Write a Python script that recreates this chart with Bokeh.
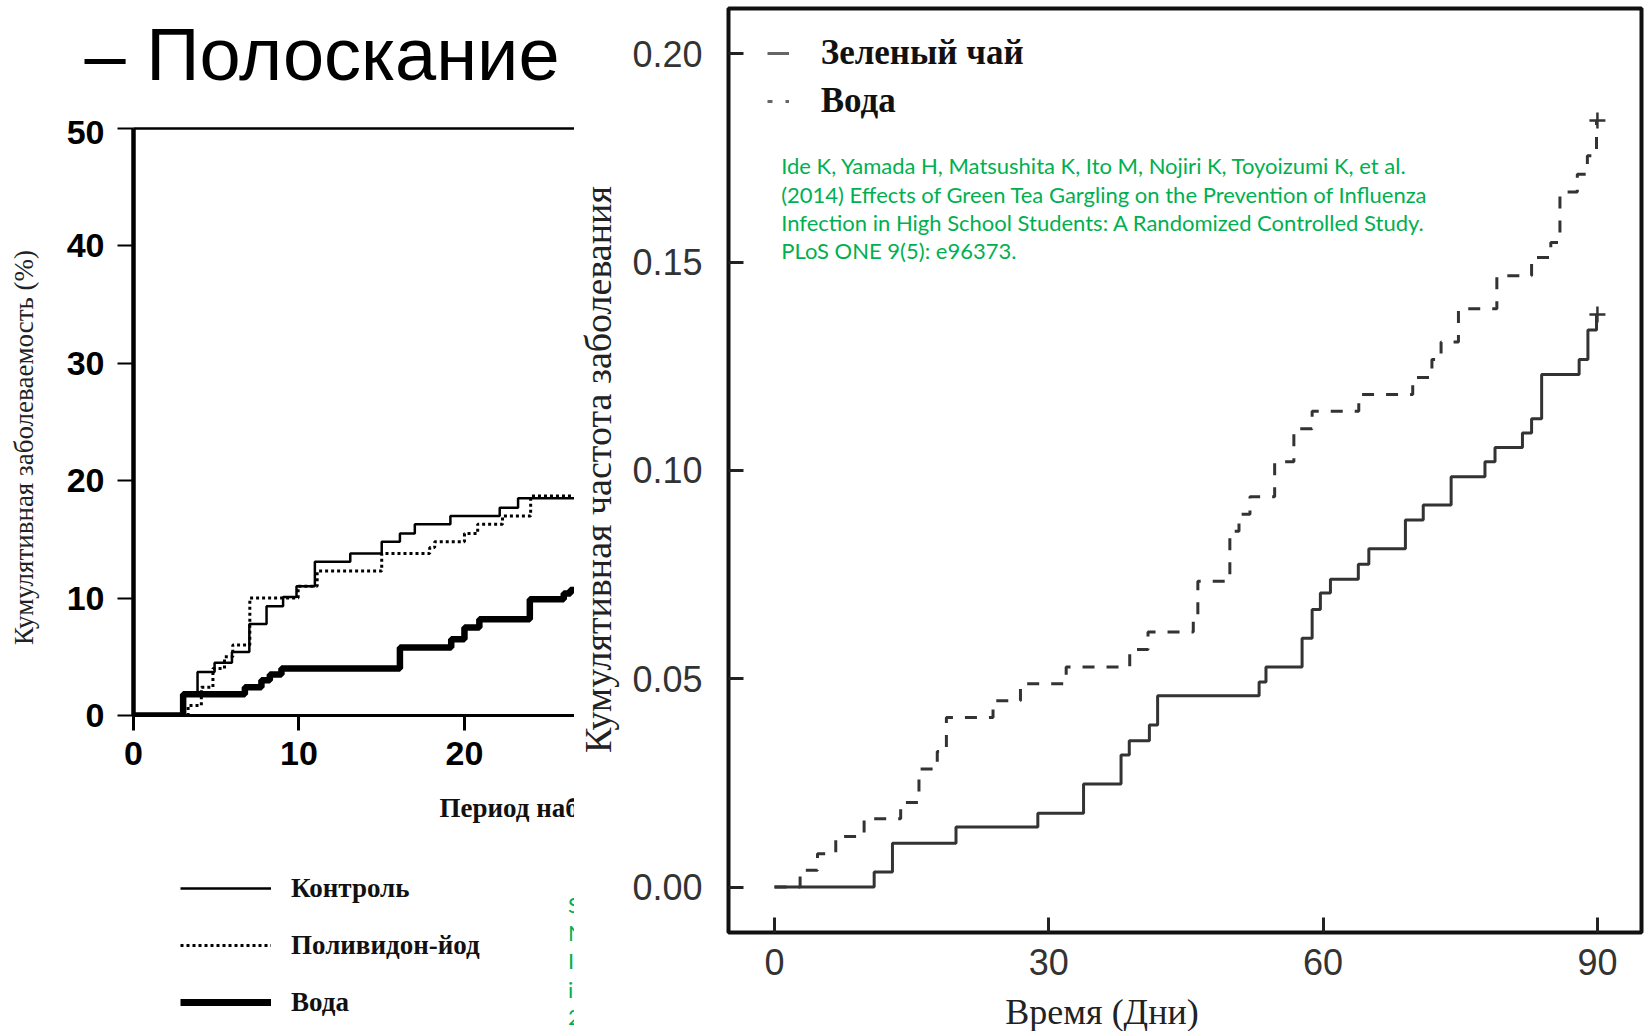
from bokeh.plotting import figure
from bokeh.layouts import row, column
from bokeh.models import Range1d, FixedTicker, Label, Legend, LegendItem, LinearAxis
from bokeh.embed import file_html
from bokeh.resources import INLINE
import math

# ---------------- data: left chart (gargling, %) ----------------
lc_title = "– Полоскание"
lc_ylabel = "Кумулятивная заболеваемость (%)"
lc_xlabel = "Период наблюдения (дни)"
lc_xticks = [0, 10, 20]
lc_yticks = [0, 10, 20, 30, 40, 50]
lc_series_names = ["Контроль", "Поливидон-йод", "Вода"]

lc_days_control = [0, 3.0, 3.87, 4.9, 5.95, 7.0, 8.04, 9.04, 9.85, 10.96, 13.1, 15.0, 16.1, 17.0, 19.15, 22.13, 23.24, 27]
lc_vals_control = [0, 1.9, 3.7, 4.5, 5.4, 7.8, 9.3, 10.1, 11.0, 13.1, 13.8, 14.8, 15.5, 16.3, 17.0, 17.7, 18.5, 18.5]

lc_days_pvp = [0, 3.3, 4.1, 4.8, 5.5, 6.0, 7.03, 9.95, 11.1, 15.0, 17.9, 18.2, 20.0, 20.8, 22.3, 24.0, 27]
lc_vals_pvp = [0, 0.85, 2.4, 4.0, 5.0, 6.0, 10.0, 11.0, 12.3, 13.8, 14.3, 14.8, 15.5, 16.3, 17.0, 18.7, 18.7]

lc_days_water = [0, 3.0, 6.73, 7.73, 8.24, 8.94, 16.1, 19.2, 20.0, 20.9, 23.95, 26.0, 26.4, 27]
lc_vals_water = [0, 1.8, 2.4, 3.0, 3.5, 4.0, 5.8, 6.5, 7.5, 8.2, 9.9, 10.4, 10.7, 10.7]

lc_cite_fragments = ["S", "N", "I", "i", "2"]

# ---------------- data: right chart (green tea gargling) ----------------
rc_ylabel = "Кумулятивная частота заболевания"
rc_xlabel = "Время (Дни)"
rc_xticks = [0, 30, 60, 90]
rc_yticks = [0.0, 0.05, 0.10, 0.15, 0.20]
rc_ytick_labels = ["0.00", "0.05", "0.10", "0.15", "0.20"]
rc_series_names = ["Зеленый чай", "Вода"]

rc_days_tea = [0, 10.9, 12.9, 19.85, 28.8, 33.8, 37.9, 38.8, 41.0, 41.9, 53.0, 53.75, 57.7, 58.8, 59.7,
               60.8, 63.85, 65.0, 69.0, 70.95, 74.0, 77.7, 78.8, 81.8, 82.8, 83.9, 88.0, 88.96, 89.9, 90]
rc_vals_tea = [0, 0.0036, 0.0105, 0.0144, 0.0177, 0.0247, 0.0317, 0.0351, 0.0389, 0.0459, 0.0492, 0.0528,
               0.0597, 0.0666, 0.0706, 0.0739, 0.0775, 0.0812, 0.0881, 0.0917, 0.0985, 0.1021, 0.1055,
               0.1090, 0.1124, 0.1230, 0.1266, 0.1337, 0.1374, 0.1374]

rc_days_water = [0, 2.8, 4.7, 6.7, 9.8, 13.8, 15.8, 17.8, 18.8, 23.9, 26.9, 31.9, 38.85, 40.85, 45.8, 46.3,
                 49.8, 50.8, 52.0, 54.7, 56.8, 58.8, 63.9, 69.8, 71.9, 72.9, 74.8, 79.0, 82.8, 84.9, 85.9,
                 87.8, 88.9, 89.9, 90]
rc_vals_water = [0, 0.0040, 0.0080, 0.0121, 0.0164, 0.0203, 0.0283, 0.0325, 0.0407, 0.0447, 0.0488, 0.0528,
                 0.0570, 0.0612, 0.0654, 0.0734, 0.0854, 0.0895, 0.0937, 0.1021, 0.1100, 0.1142, 0.1182,
                 0.1223, 0.1266, 0.1308, 0.1388, 0.1467, 0.1511, 0.1547, 0.1668, 0.1711, 0.1755, 0.1840, 0.1840]

rc_censor_days = [90, 90]
rc_censor_vals = [0.1374, 0.1840]

rc_citation = [
    "Ide K, Yamada H, Matsushita K, Ito M, Nojiri K, Toyoizumi K, et al.",
    "(2014) Effects of Green Tea Gargling on the Prevention of Influenza",
    "Infection in High School Students: A Randomized Controlled Study.",
    "PLoS ONE 9(5): e96373.",
]

SERIF = "Liberation Serif"
SANS = "Liberation Sans"
GREEN = "#00B050"
NAN = float("nan")
BASE_FIX = 0.38  # Bokeh's alphabetic anchor sits this many em below the intended baseline


def text_panel(x0, x1, y0, y1):
    """Blank figure whose data coordinates equal page pixels (y downward)."""
    f = figure(width=x1 - x0, height=y1 - y0, x_range=Range1d(x0, x1), y_range=Range1d(y1, y0),
               x_axis_type=None, y_axis_type=None, min_border=0, outline_line_color=None,
               output_backend="svg", toolbar_location=None,
               background_fill_color="white", border_fill_color="white")
    f.frame_align = False
    f.grid.visible = False
    return f


def add_text(f, x, y, text, font, size, color="#111", style="normal", angle=0.0,
             align="left", baseline="alphabetic"):
    if baseline == "alphabetic":
        y = y - BASE_FIX * size
    f.add_layout(Label(x=x, y=y, text=text, text_font=font, text_font_size=f"{size}px", text_color=color,
                       text_font_style=style, angle=angle, text_align=align, text_baseline=baseline))


# ================= LEFT COLUMN =================
L_top = text_panel(0, 574, 0, 120)
add_text(L_top, 84, 81.7, lc_title, SANS, 74, color="black")

L_ylab = text_panel(0, 60, 120, 790)
add_text(L_ylab, 23, 447, lc_ylabel, SERIF, 27, color="#222", angle=math.pi / 2,
         align="center", baseline="middle")

L = figure(width=514, height=670, x_range=Range1d(0, 26.65), y_range=Range1d(0, 50),
           output_backend="svg", toolbar_location=None,
           min_border_left=73, min_border_right=0, min_border_top=8, min_border_bottom=75,
           outline_line_color=None, background_fill_color="white", border_fill_color="white")
L.frame_align = False
L.grid.visible = False
L.xaxis.ticker = FixedTicker(ticks=lc_xticks)
L.yaxis.ticker = FixedTicker(ticks=lc_yticks)
for ax in (L.xaxis[0], L.yaxis[0]):
    ax.minor_tick_line_color = None
    ax.major_label_text_font = SANS
    ax.major_label_text_font_style = "bold"
    ax.major_label_text_font_size = "34px"
    ax.major_label_text_color = "black"
    ax.axis_line_color = "black"
    ax.major_tick_line_color = "black"
    ax.major_tick_in = 0
L.yaxis.axis_line_width = 4.5
L.yaxis.major_tick_out = 16
L.yaxis.major_tick_line_width = 2
L.yaxis.major_label_standoff = 13
L.xaxis.axis_line_width = 3
L.xaxis.major_tick_out = 15
L.xaxis.major_tick_line_width = 3
L.xaxis.major_label_standoff = 11
top_ax = LinearAxis(ticker=FixedTicker(ticks=[]), axis_line_width=2.5, axis_line_color="black",
                    major_tick_line_color=None, minor_tick_line_color=None)
L.add_layout(top_ax, "above")

L.step(lc_days_control, lc_vals_control, mode="after", line_color="black", line_width=2.5)
L.step(lc_days_pvp, lc_vals_pvp, mode="after", line_color="black", line_width=3, line_dash="3 3")
L.step(lc_days_water, lc_vals_water, mode="after", line_color="black", line_width=6.5)

L_bot = text_panel(0, 574, 790, 1031)
add_text(L_bot, 439, 818, lc_xlabel, SERIF, 27, style="bold")
for i, t in enumerate(lc_cite_fragments):
    add_text(L_bot, 567.5, 912 + 28.3 * i, t, "Lato", 22, color=GREEN)
lg_ctrl = L_bot.line([NAN], [NAN], line_color="black", line_width=2.5)
lg_pvp = L_bot.line([NAN], [NAN], line_color="black", line_width=3, line_dash="3 3")
lg_wat = L_bot.line([NAN], [NAN], line_color="black", line_width=7)
legL = Legend(items=[LegendItem(label=lc_series_names[0], renderers=[lg_ctrl]),
                     LegendItem(label=lc_series_names[1], renderers=[lg_pvp]),
                     LegendItem(label=lc_series_names[2], renderers=[lg_wat])],
              location=(180, 1031 - 1022.3), orientation="vertical",
              glyph_width=91, glyph_height=40, label_height=40, label_standoff=20, spacing=17,
              padding=0, margin=0, border_line_color=None, background_fill_alpha=0,
              label_text_font=SERIF, label_text_font_style="bold", label_text_font_size="27px",
              label_text_color="#111")
L_bot.add_layout(legL)

left_col = column(L_top, row(L_ylab, L), L_bot)

# ================= RIGHT COLUMN =================
R_ylab = text_panel(574, 624, 0, 995)
add_text(R_ylab, 597.5, 469, rc_ylabel, SERIF, 38, color="#222", angle=math.pi / 2,
         align="center", baseline="middle")

R = figure(width=1021, height=995, x_range=Range1d(-5.031, 94.82), y_range=Range1d(-0.010919, 0.21087),
           output_backend="svg", toolbar_location=None,
           min_border_left=104, min_border_right=4, min_border_top=8, min_border_bottom=63,
           outline_line_color="#111", outline_line_width=4,
           background_fill_color="white", border_fill_color="white")
R.frame_align = False
R.grid.visible = False
R.xaxis.ticker = FixedTicker(ticks=rc_xticks)
R.yaxis.ticker = FixedTicker(ticks=rc_yticks)
R.yaxis.major_label_overrides = {v: s for v, s in zip(rc_yticks, rc_ytick_labels)}
for ax in (R.xaxis[0], R.yaxis[0]):
    ax.axis_line_color = None
    ax.minor_tick_line_color = None
    ax.major_tick_in = 15
    ax.major_tick_out = 0
    ax.major_tick_line_width = 3
    ax.major_tick_line_color = "#222"
    ax.major_label_text_font = SANS
    ax.major_label_text_font_size = "36px"
    ax.major_label_text_color = "#333"
R.yaxis.major_label_standoff = 26
R.xaxis.major_label_standoff = 16

R.step(rc_days_tea, rc_vals_tea, mode="after", line_color="#333", line_width=3)
R.step(rc_days_water, rc_vals_water, mode="after", line_color="#333", line_width=3, line_dash="12 12")
R.scatter(rc_censor_days, rc_censor_vals, marker="cross", size=16, line_color="#333", line_width=2.5)

lg_tea = R.line([NAN], [NAN], line_color="#666", line_width=3)
lg_wtr = R.line([NAN], [NAN], line_color="#666", line_width=3, line_dash="5 13")
legR = Legend(items=[LegendItem(label=rc_series_names[0], renderers=[lg_tea]),
                     LegendItem(label=rc_series_names[1], renderers=[lg_wtr])],
              location=(38.7, 932 - 121.3), orientation="vertical",
              glyph_width=22, glyph_height=40, label_height=40, label_standoff=32, spacing=8,
              padding=0, margin=0, border_line_color=None, background_fill_alpha=0,
              label_text_font=SERIF, label_text_font_style="bold", label_text_font_size="35px",
              label_text_color="#111")
R.add_layout(legR)

# citation inside the right frame (frame-relative screen units: left 728, bottom 932)
for i, t in enumerate(rc_citation):
    R.add_layout(Label(x=780.7 - 728, y=932 - (165.3 + 28.35 * i), x_units="screen", y_units="screen",
                       text=t, text_font="Lato", text_font_size="22px", text_color=GREEN,
                       text_align="left", text_baseline="alphabetic"))

R_bot = text_panel(574, 1645, 995, 1031)
add_text(R_bot, 1101.5, 1025, rc_xlabel, SERIF, 36, color="#222", align="center")

right_col = column(row(R_ylab, R), R_bot)

layout = row(left_col, right_col)
open("out.html", "w").write(file_html(layout, INLINE))
